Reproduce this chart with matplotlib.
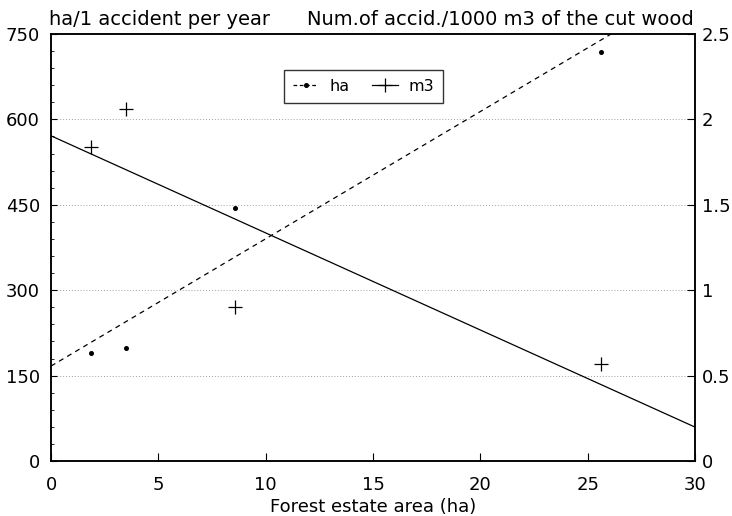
import matplotlib
matplotlib.use('Agg')
import matplotlib.pyplot as plt
import numpy as np

plt.rcParams['font.family'] = ['DejaVu Sans']

# forest estate area (ha)
area = [1.85, 3.5, 8.55, 25.6]
# ha per 1 accident per year (left axis)
ha_per_acc = [190, 198, 444, 718]
# accidents per 1000 m3 of cut wood (right axis)
acc_per_m3 = [1.84, 2.06, 0.90, 0.57]

x_ticks = [0, 5, 10, 15, 20, 25, 30]
left_ticks = [0, 150, 300, 450, 600, 750]
right_ticks = [0, 0.5, 1, 1.5, 2, 2.5]
right_labels = ['0', '0.5', '1', '1.5', '2', '2.5']

fs = 13

fig = plt.figure(figsize=(7.32, 5.16), dpi=100)
ax = fig.add_axes([0.0697, 0.1066, 0.8798, 0.8275])
ax2 = ax.twinx()

xs = np.array([0, 30])
k1, b1 = np.polyfit(area, ha_per_acc, 1)
k2, b2 = np.polyfit(area, acc_per_m3, 1)

ax.plot(xs, k1 * xs + b1, color='black', lw=0.9, linestyle=(0, (4, 3.5)))
ax.plot(area, ha_per_acc, 'o', color='black', ms=2.6, linestyle='none')
ax2.plot(xs, k2 * xs + b2, color='black', lw=0.9)
ax2.plot(area, acc_per_m3, '+', color='black', ms=10.5, mew=0.9, linestyle='none')

ax.set_xlim(0, 30)
ax.set_ylim(0, 750)
ax2.set_ylim(0, 2.5)
ax.set_xticks(x_ticks)
ax.set_xticklabels([str(t) for t in x_ticks], fontsize=fs)
ax.set_yticks(left_ticks)
ax.set_yticklabels([str(t) for t in left_ticks], fontsize=fs)
ax.set_yticks(np.arange(0, 751, 30), minor=True)
ax2.set_yticks(right_ticks)
ax2.set_yticklabels(right_labels, fontsize=fs)

ax.tick_params(axis='x', direction='in', length=6, width=0.8, pad=11)
ax.tick_params(axis='y', which='major', direction='in', length=4, width=0.8, pad=8)
ax.tick_params(axis='y', which='minor', direction='in', length=2, width=0.6)
ax2.tick_params(axis='y', direction='in', length=6, width=0.8, pad=5)

for a in (ax, ax2):
    for s in a.spines.values():
        s.set_linewidth(1.1)

for v in left_ticks[1:-1]:
    ax.axhline(v, color='#a0a0a0', lw=0.7, linestyle=(0, (1, 2)), zorder=0)

ax.set_xlabel('Forest estate area (ha)', fontsize=fs, labelpad=3)

fig.text(0.067, 0.9516, 'ha/1 accident per year', fontsize=14, ha='left', va='baseline')
fig.text(0.948, 0.9516, 'Num.of accid./1000 m3 of the cut wood', fontsize=14,
         ha='right', va='baseline')

h1 = plt.Line2D([], [], color='black', lw=0.9, linestyle=(0, (3, 2)), marker='o', ms=2.6)
h2 = plt.Line2D([], [], color='black', lw=0.9, marker='+', ms=10.5, mew=0.9)
leg = fig.legend([h1, h2], ['ha', 'm3'], loc='upper left', bbox_to_anchor=(0.388, 0.864),
                 borderaxespad=0, ncol=2, fontsize=11.5, frameon=True, fancybox=False,
                 handlelength=1.6, columnspacing=1.4, borderpad=0.55, handletextpad=0.7)
leg.get_frame().set_edgecolor('black')
leg.get_frame().set_linewidth(1.0)

fig.savefig('out.png', dpi=100)
